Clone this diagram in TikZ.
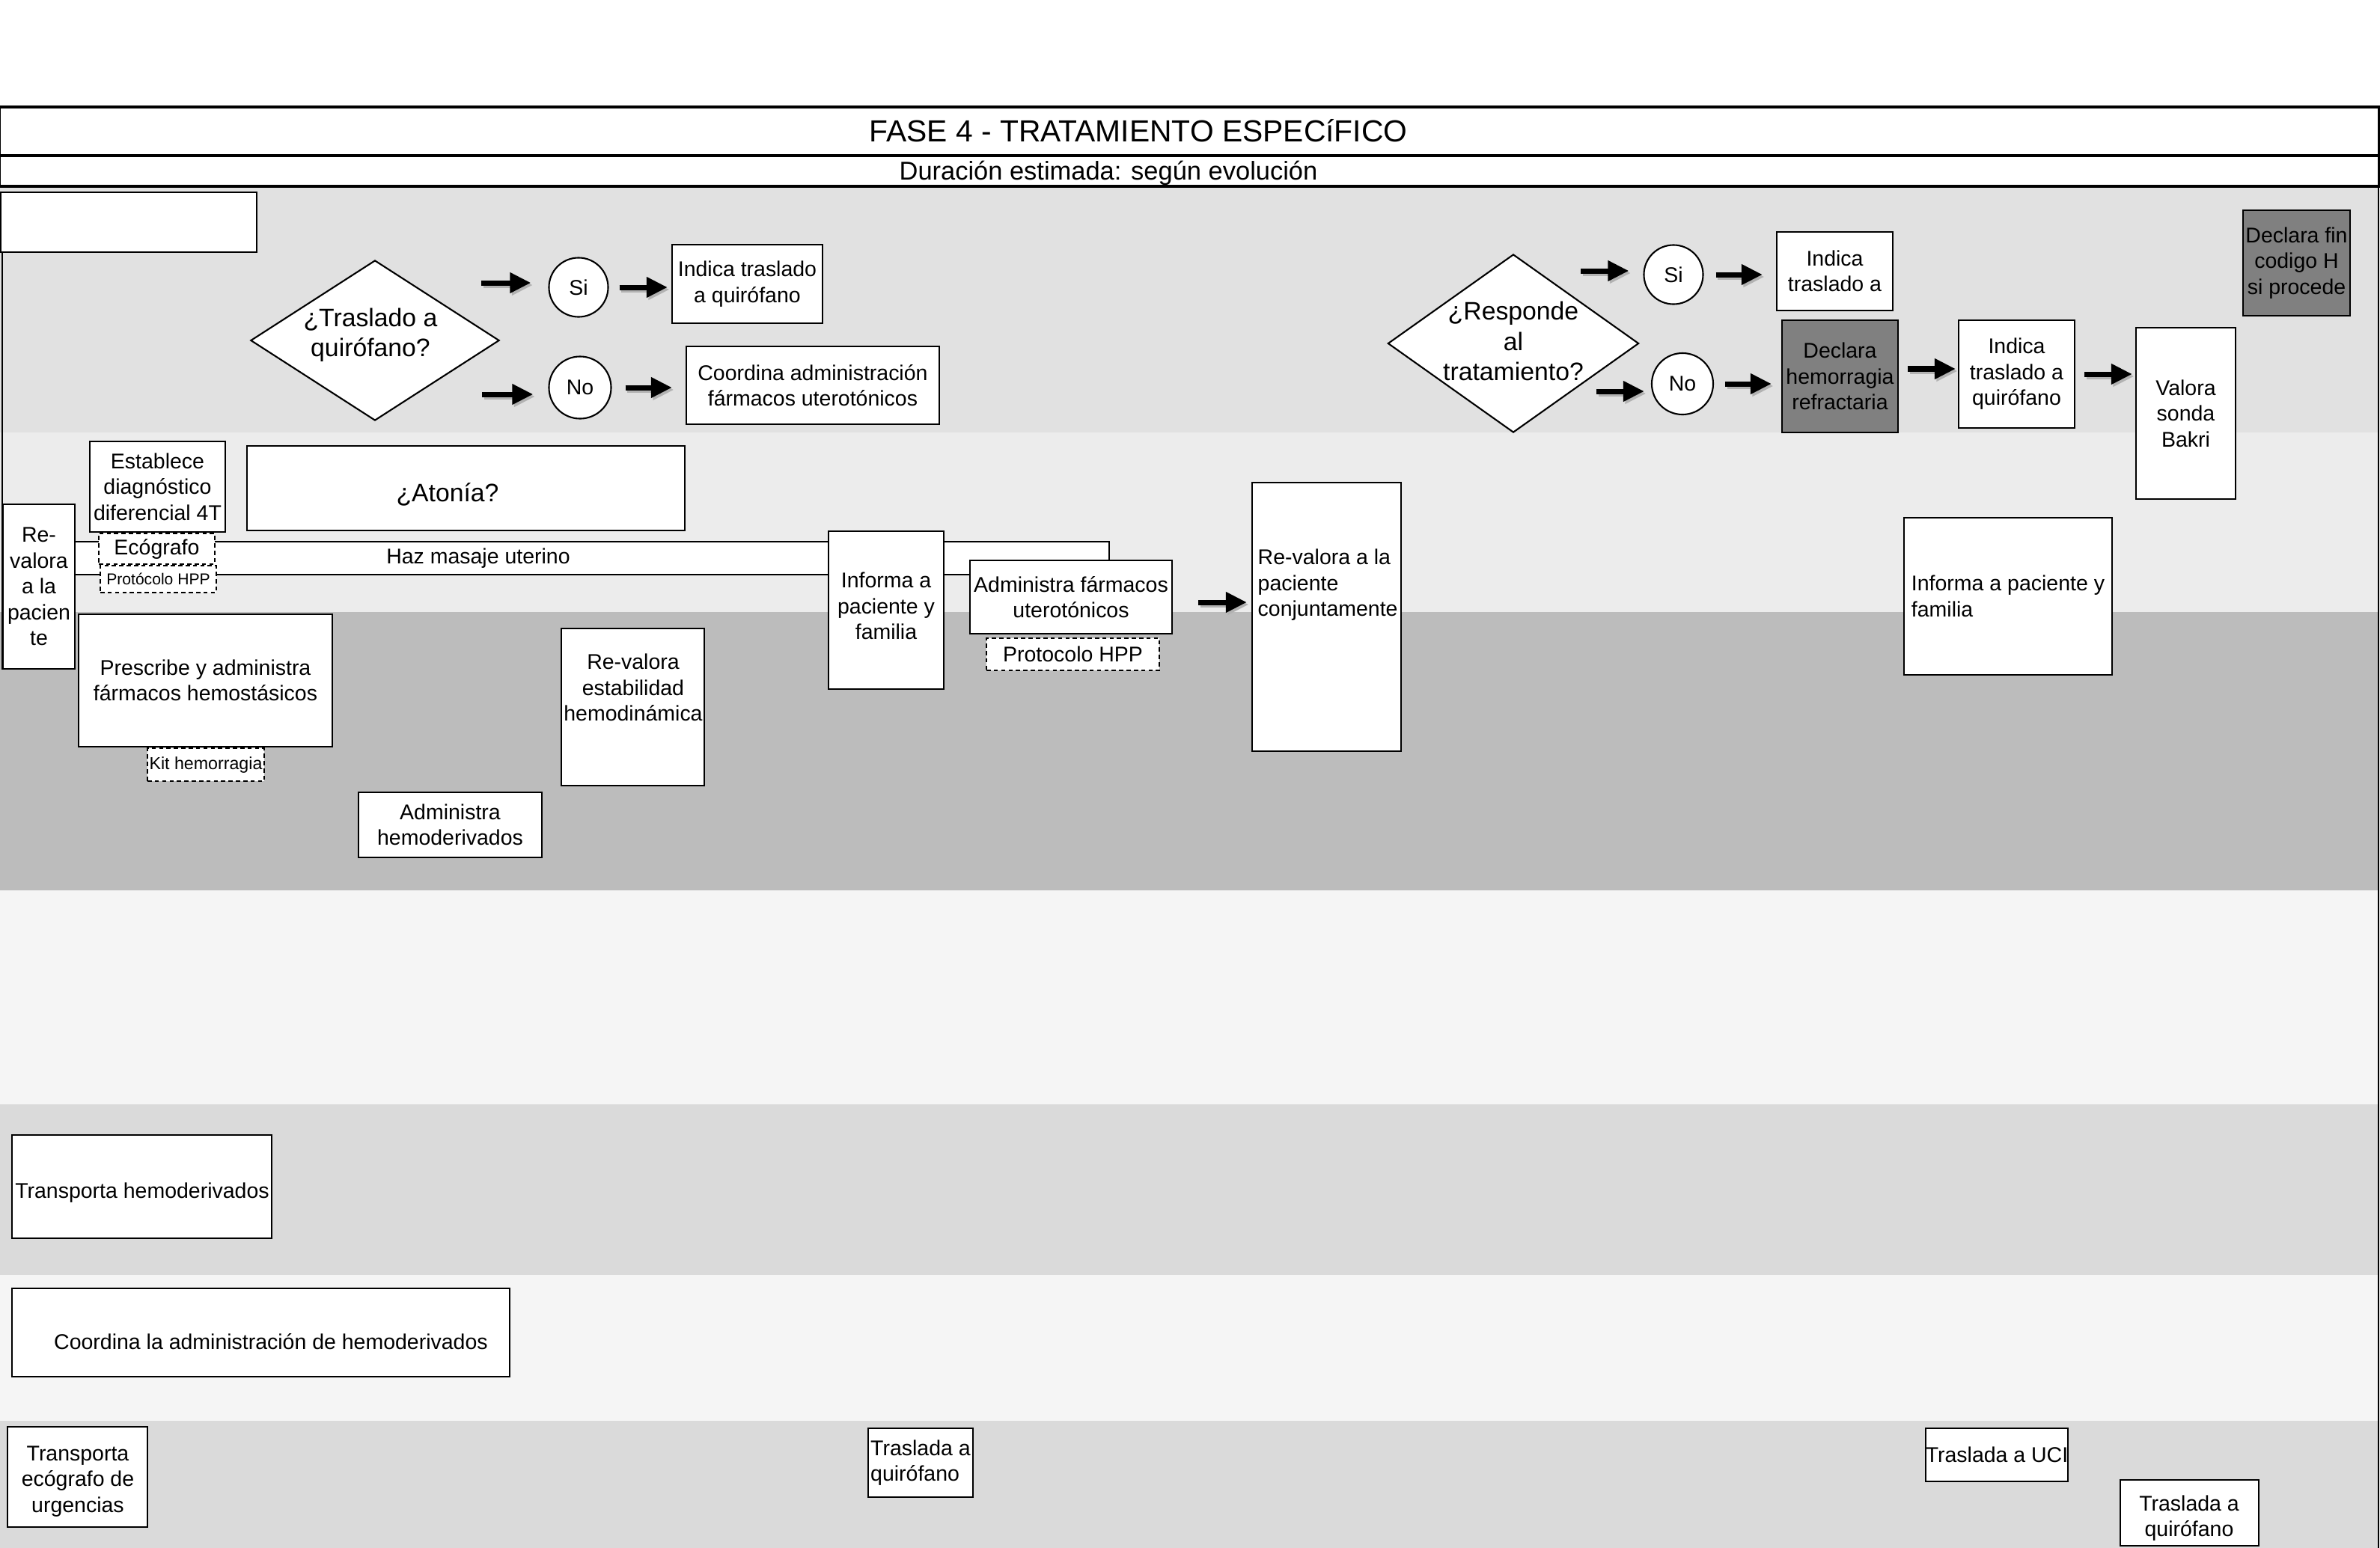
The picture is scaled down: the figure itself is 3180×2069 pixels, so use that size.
\documentclass[tikz,border=0pt]{standalone}
\usepackage{fontspec}
\setmainfont{Liberation Sans}
\usetikzlibrary{shapes.geometric,arrows.meta,calc}
\definecolor{laneA}{RGB}{225,225,225}
\definecolor{laneB}{RGB}{236,236,236}
\definecolor{laneC}{RGB}{188,188,188}
\definecolor{laneD}{RGB}{245,245,245}
\definecolor{laneE}{RGB}{218,218,218}
\definecolor{darkbox}{RGB}{128,128,128}
\newcommand\fbody{\fontsize{8.1}{9.8}\selectfont}
\newcommand\fdia{\fontsize{9.6}{11.5}\selectfont}
\newcommand\fsmall{\fontsize{6}{7}\selectfont}
\newcommand\fkit{\fontsize{6.6}{7.5}\selectfont}
\newcommand\ftitle{\fontsize{11.6}{13}\selectfont}
\newcommand\fsub{\fontsize{9.8}{11}\selectfont}
\newcommand\bx[7][]{\node[box,minimum width={(#5-#3)*0.01cm},minimum height={(#6-#4)*0.01cm},#1] (#2) at ({(#3+#5)/2},{(#4+#6)/2}) {#7};}
\tikzset{
  box/.style={draw=black,fill=white,line width=0.6pt,inner sep=0pt,align=center,font=\fbody},
  dbox/.style={dashed,dash pattern=on 1.6pt off 1.2pt,line width=0.5pt},
  txt/.style={inner sep=0pt,align=center,font=\fbody},
  dtxt/.style={inner sep=0pt,align=center,font=\fdia},
  dia/.style={diamond,draw=black,fill=white,line width=0.6pt,inner sep=0pt},
  circ/.style={circle,draw=black,fill=white,line width=0.6pt,inner sep=0pt,font=\fbody},
  arr/.style={-{Triangle[length=0.28cm,width=0.26cm]},line width=0.07cm,black,
    preaction={draw=black!30,-{Triangle[length=0.28cm,width=0.26cm]},line width=0.07cm,transform canvas={shift={(0.025cm,-0.03cm)}}}},
  titlebox/.style={draw=black,fill=white,line width=1pt,inner sep=0pt}
}
\begin{document}
\begin{tikzpicture}[x=0.01cm,y=-0.01cm]
\useasboundingbox (0,0) rectangle (3180,2069);
\fill[white] (0,0) rectangle (3180,2069);
% lanes
\fill[laneA] (0,249) rectangle (3178,578);
\fill[laneB] (0,578) rectangle (3178,818);
\fill[laneC] (0,818) rectangle (3178,1190);
\fill[laneD] (0,1190) rectangle (3178,1476);
\fill[laneE] (0,1476) rectangle (3178,1704);
\fill[laneD] (0,1704) rectangle (3178,1899);
\fill[laneE] (0,1899) rectangle (3178,2069);
\draw[line width=0.6pt] (3178,143) -- (3178,2069);
% title
\node[titlebox,minimum width=31.77cm,minimum height=0.65cm] (tbox) at (1589,175.5) {};
\node[titlebox,minimum width=31.77cm,minimum height=0.41cm] (sbox) at (1589,228.5) {};
\node[inner sep=0pt,font=\ftitle] (ttext) at (1521,175) {FASE 4 - TRATAMIENTO ESPECíFICO};
\node[inner sep=0pt,font=\fsub] (stext) at (1481,231) {Duración estimada: según evolución};
% top-left box and left line
\bx{b0}{1}{257}{343}{337}{}
\draw[line width=0.6pt] (3,337) -- (3,895);
% lane 1 left
\node[dia,minimum width=3.32cm,minimum height=2.14cm] (d1) at (501,455) {};
\node[dtxt] (d1t) at (495,448) {¿Traslado a\\quirófano?};
\node[circ,minimum size=0.79cm] (si1) at (773,384) {Si};
\node[circ,minimum size=0.83cm] (no1) at (775,518) {No};
\bx{b1}{898}{327}{1099}{432}{Indica traslado\\a quirófano}
\bx{b2}{917}{463}{1255}{567}{Coordina administración\\fármacos uterotónicos}
% lane 1 right
\node[dia,minimum width=3.35cm,minimum height=2.38cm] (d2) at (2022,459) {};
\node[dtxt] (d2t) at (2022,456) {¿Responde\\al\\tratamiento?};
\node[circ,minimum size=0.79cm] (si2) at (2236,367) {Si};
\node[circ,minimum size=0.82cm] (no2) at (2248,513) {No};
\bx{b3}{2374}{310}{2529}{415}{Indica\\traslado a}
\bx[fill=darkbox]{b4}{2381}{428}{2536}{578}{Declara\\hemorragia\\refractaria}
\bx{b5}{2617}{428}{2772}{572}{Indica\\traslado a\\quirófano}
\bx{b6}{2854}{438}{2987}{667}{Valora\\sonda\\Bakri}
\bx[fill=darkbox]{b7}{2997}{281}{3140}{422}{Declara fin\\codigo H\\si procede}
% lane 2
\bx{b8}{120}{590}{301}{711}{Establece\\diagnóstico\\diferencial 4T}
\bx{b9}{330}{596}{915}{709}{}
\node[dtxt] (b9t) at (598,661) {¿Atonía?};
\bx{bar}{60}{724}{1482}{768}{}
\node[txt] (bart) at (639,746) {Haz masaje uterino};
\bx{b10}{4}{674}{100}{894}{Re-\\valora\\a la\\pacien\\te}
\bx[dbox]{b11}{132}{713}{287}{754}{Ecógrafo}
\bx[dbox,font=\fsmall]{b12}{134}{756}{289}{792}{Protócolo HPP}
\bx{b13}{1107}{710}{1261}{921}{}
\node[txt] (b13t) at (1184,810) {Informa a\\paciente y\\familia};
\bx{b14}{1296}{749}{1566}{847}{Administra fármacos\\uterotónicos}
\bx[dbox]{b15}{1318}{853}{1549}{896}{Protocolo HPP}
\bx{b16}{1673}{645}{1872}{1004}{}
\node[txt,align=left,anchor=west] (b16t) at (1680,782) {Re-valora a la\\paciente\\conjuntamente};
\bx[align=left]{b17}{2544}{692}{2822}{902}{Informa a paciente y\\familia}
% lane 3
\bx{b18}{105}{821}{444}{998}{Prescribe y administra\\fármacos hemostásicos}
\bx[dbox,font=\fkit]{b19}{197}{1000}{353}{1044}{Kit hemorragia}
\bx{b20}{750}{840}{941}{1050}{}
\node[txt] (b20t) at (846,919) {Re-valora\\estabilidad\\hemodinámica};
\bx{b21}{479}{1059}{724}{1146}{Administra\\hemoderivados}
% lane 5
\bx{b22}{16}{1517}{363}{1655}{}
\node[txt] (b22t) at (190,1594) {Transporta hemoderivados};
% lane 6
\bx{b23}{16}{1722}{681}{1840}{}
\node[txt] (b23t) at (362,1793) {Coordina la administración de hemoderivados};
% lane 7
\bx{b24}{10}{1907}{197}{2041}{}
\node[txt] (b24t) at (104,1980) {Transporta\\ecógrafo de\\urgencias};
\bx[align=left]{b25}{1160}{1909}{1300}{2001}{Traslada a\\quirófano}
\bx{b26}{2576}{1909}{2760}{1980}{Traslada a UCI}
\bx{b27}{2833}{1978}{3018}{2066}{}
\node[txt] (b27t) at (2925,2029) {Traslada a\\quirófano};
% arrows
\coordinate (a1s) at (643,378);
\draw[arr,shorten >=0.23cm] (a1s) -- (a1s -| si1.west);
\draw[arr,shorten <=0.14cm,shorten >=0.05cm] (si1.east) -- (si1.east -| b1.west);
\coordinate (a3s) at (644,527);
\draw[arr,shorten >=0.2cm] (a3s) -- (a3s -| no1.west);
\draw[arr,shorten <=0.18cm,shorten >=0.18cm] (no1.east) -- (no1.east -| b2.west);
\coordinate (a5s) at (2112,362);
\draw[arr,shorten >=0.19cm] (a5s) -- (a5s -| si2.west);
\draw[arr,shorten <=0.16cm,shorten >=0.18cm] (si2.east) -- (si2.east -| b3.west);
\coordinate (a7s) at (2133,523);
\draw[arr,shorten >=0.09cm] (a7s) -- (a7s -| no2.west);
\draw[arr,shorten <=0.15cm,shorten >=0.13cm] (no2.east) -- (no2.east -| b4.west);
\draw[arr,shorten <=0.12cm,shorten >=0.03cm] ([yshift=0.1cm]b4.east) -- ([yshift=0.1cm]b4.east -| b5.west);
\draw[arr,shorten <=0.12cm,shorten >=0.04cm] (b5.east) -- (b5.east -| b6.west);
\draw[arr,shorten <=0.34cm,shorten >=0.06cm] ([yshift=-0.07cm]b14.east) -- ([yshift=-0.07cm]b14.east -| b16.west);
\end{tikzpicture}
\end{document}
